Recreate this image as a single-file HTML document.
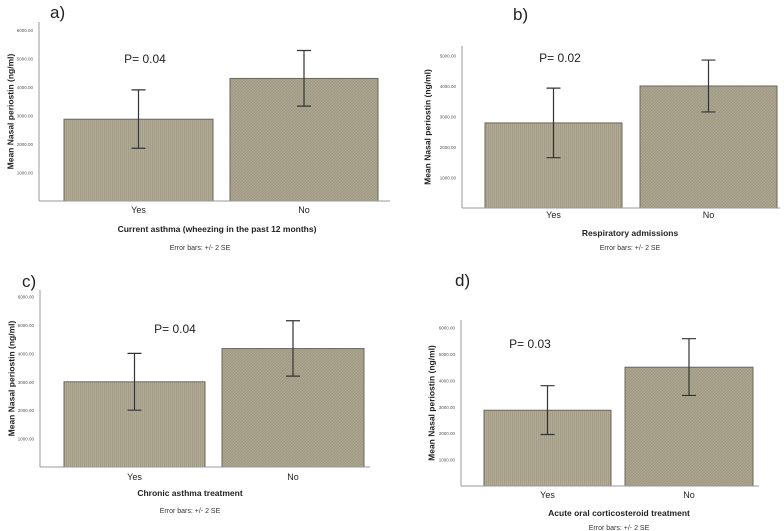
<!DOCTYPE html>
<html><head><meta charset="utf-8"><style>
html,body{margin:0;padding:0;background:#fff;}
svg{display:block;font-family:"Liberation Sans",sans-serif;}
</style></head><body>
<svg id="c" width="784" height="531" viewBox="0 0 784 531" xmlns="http://www.w3.org/2000/svg">
<defs>
<pattern id="pv" width="2" height="4" patternUnits="userSpaceOnUse"><rect width="2" height="4" fill="#b1ac98"/><rect width="1" height="4" fill="#a39d88"/></pattern>
<pattern id="pd" width="3" height="3" patternUnits="userSpaceOnUse"><rect width="3" height="3" fill="#aca690"/><path d="M0,3 L3,0" stroke="#9c967f" stroke-width="0.8"/></pattern>
</defs>
</svg>
<script>
const categories = ["Yes","No"];
const panelLabels = ["a)","b)","c)","d)"];
const pValues = ["P= 0.04","P= 0.02","P= 0.04","P= 0.03"];
const xTitles = ["Current asthma (wheezing in the past 12 months)","Respiratory admissions","Chronic asthma treatment","Acute oral corticosteroid treatment"];
const meansA = [2870, 4300];
const lowA = [1850, 3330];
const highA = [3900, 5280];
const meansB = [2790, 4000];
const lowB = [1650, 3150];
const highB = [3930, 4850];
const meansC = [3000, 4170];
const lowC = [2000, 3200];
const highC = [4000, 5150];
const meansD = [2870, 4500];
const lowD = [1950, 3430];
const highD = [3800, 5580];
const ticksA = [1000,2000,3000,4000,5000,6000];
const ticksB = [1000,2000,3000,4000,5000];
const tickFmt = v => v.toFixed(2);

const layouts = [
 {ax:39, base:201, per:28.5, top:22, right:390, bars:[[64,213],[230,378]], lab:[50,18], p:[145,63], cat:213, tt:232, tc:217, eb:250, ec:200, yt:7, ticks:ticksA},
 {ax:462, base:208, per:30.5, top:46, right:780, bars:[[485,622],[640,777]], lab:[513,20], p:[560,62], cat:218, tt:236, tc:630, eb:250, ec:630, yt:424, ticks:ticksB},
 {ax:40, base:467, per:28.4, top:290, right:370, bars:[[64,205],[222,364]], lab:[22,287], p:[175,333], cat:480, tt:496, tc:190, eb:513, ec:190, yt:8, ticks:ticksA},
 {ax:461, base:486, per:26.4, top:320, right:759, bars:[[484,611],[625,753]], lab:[455,286], p:[530,348], cat:498, tt:516, tc:619, eb:530, ec:619, yt:428, ticks:ticksA}
];
const means=[meansA,meansB,meansC,meansD], lows=[lowA,lowB,lowC,lowD], highs=[highA,highB,highC,highD];
const svg=document.getElementById('c');
const NS="http://www.w3.org/2000/svg";
function mk(tag,attrs,parent,text){const e=document.createElementNS(NS,tag);for(const k in attrs)e.setAttribute(k,attrs[k]);if(text!==undefined)e.textContent=text;parent.appendChild(e);return e;}
layouts.forEach((L,i)=>{
 const g=mk('g',{},svg);
 
 
 const y=v=>L.base-v/1000*L.per;
 let t=mk('text',{x:L.lab[0],y:L.lab[1],'font-size':17,fill:'#222'},g,panelLabels[i]);
 
 
 let ax=mk('line',{x1:L.ax,y1:L.top,x2:L.ax,y2:L.base,stroke:'#999','stroke-width':1},g);
 
 
 L.ticks.forEach(v=>{
  const tk=mk('text',{x:L.ax-6,y:y(v)+2,'font-size':4.5,fill:'#555','text-anchor':'end'},g,tickFmt(v));
  
  
 });
 categories.forEach((c,j)=>{
  const [x0,x1]=L.bars[j];
  const b=mk('rect',{x:x0,y:y(means[i][j]),width:x1-x0,height:L.base-y(means[i][j]),fill:j?'url(#pd)':'url(#pv)',stroke:'#6a665a','stroke-width':1},g);
  
  
  const cx=(x0+x1)/2;
  const e=mk('path',{d:`M${cx-7},${y(highs[i][j])}H${cx+7}M${cx},${y(highs[i][j])}V${y(lows[i][j])}M${cx-7},${y(lows[i][j])}H${cx+7}`,stroke:'#333','stroke-width':1.2,fill:'none'},g);
  
  
  const cl=mk('text',{x:cx,y:L.cat,'font-size':9,fill:'#222','text-anchor':'middle'},g,c);
  
  
 });
 let bl=mk('line',{x1:L.ax,y1:L.base,x2:L.right,y2:L.base,stroke:'#999','stroke-width':1},g);
 
 
 let p=mk('text',{x:L.p[0],y:L.p[1],'font-size':12,fill:'#222','text-anchor':'middle'},g,pValues[i]);
 
 
 let xt=mk('text',{x:L.tc,y:L.tt,'font-size':8.5,'font-weight':'bold',fill:'#222','text-anchor':'middle'},g,xTitles[i]);
 
 
 let eb=mk('text',{x:L.ec,y:L.eb,'font-size':7,fill:'#333','text-anchor':'middle'},g,'Error bars: +/- 2 SE');
 
 
 const mid=(L.top+L.base)/2;
 let yt=mk('text',{x:L.yt,y:mid,'font-size':8.5,'font-weight':'bold',fill:'#222','text-anchor':'middle',transform:`rotate(-90 ${L.yt} ${mid})`,'dominant-baseline':'hanging'},g,'Mean Nasal periostin (ng/ml)');
 
 
});
</script>
</body></html>
